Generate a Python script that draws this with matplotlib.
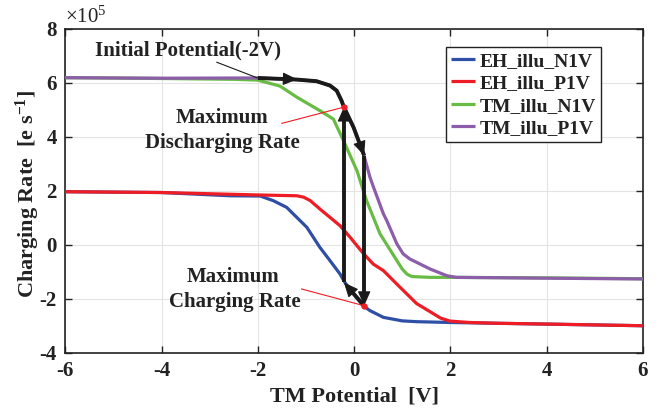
import matplotlib
matplotlib.use("Agg")
import matplotlib.pyplot as plt
from matplotlib.patches import ArrowStyle

plt.rcParams['font.family'] = ['Liberation Serif', 'DejaVu Serif']
plt.rcParams['font.weight'] = 'bold'
plt.rcParams['mathtext.default'] = 'regular'
plt.rcParams['axes.unicode_minus'] = False

# ---- data (values in units of 1e5 e/s) ----
eh_n1v_x = [-6, -4, -2.58, -1.95, -1.68, -1.40, -1.19, -0.98, -0.71, -0.5, -0.29, -0.19, 0.0, 0.19, 0.33, 0.61, 1.0, 1.30, 2.0, 3.0, 4.0, 5.0, 6.0]
eh_n1v_y = [1.96, 1.93, 1.81, 1.80, 1.63, 1.38, 1.01, 0.64, -0.10, -0.59, -1.09, -1.40, -1.85, -2.26, -2.44, -2.69, -2.82, -2.85, -2.88, -2.91, -2.94, -2.97, -3.0]

eh_p1v_x = [-6, -4, -2, -1.19, -1.05, -0.91, -0.71, -0.5, -0.29, -0.08, 0.19, 0.40, 0.61, 0.89, 1.30, 1.58, 1.80, 2.0, 2.4, 3.0, 4.07, 5.0, 6.0]
eh_p1v_y = [1.96, 1.93, 1.84, 1.81, 1.76, 1.63, 1.32, 1.01, 0.70, 0.27, -0.32, -0.72, -0.96, -1.46, -2.18, -2.48, -2.72, -2.83, -2.88, -2.91, -2.94, -2.97, -3.0]

tm_n1v_x = [-6, -4, -2.5, -2, -1.54, -1.19, -0.71, -0.43, -0.22, 0.06, 0.26, 0.54, 0.89, 1.0, 1.10, 1.2, 1.58, 2.0, 4.0, 6.0]
tm_n1v_y = [6.18, 6.15, 6.12, 6.09, 5.87, 5.46, 4.96, 4.65, 3.85, 2.74, 1.63, 0.40, -0.59, -0.90, -1.09, -1.18, -1.21, -1.21, -1.23, -1.26]

tm_p1v_x = [-6, -4, -2, -1.19, -0.78, -0.5, -0.36, -0.26, -0.21, -0.01, 0.21, 0.33, 0.40, 0.61, 0.68, 0.89, 1.02, 1.16, 1.58, 1.93, 2.13, 4.0, 6.0]
tm_p1v_y = [6.18, 6.16, 6.17, 6.11, 6.05, 5.89, 5.70, 5.33, 5.09, 4.34, 3.28, 2.50, 2.15, 1.14, 0.89, 0.03, -0.34, -0.53, -0.90, -1.15, -1.21, -1.24, -1.27]

labels = ['EH_illu_N1V', 'EH_illu_P1V', 'TM_illu_N1V', 'TM_illu_P1V']
colors = ['#2f4fa6', '#ee1c25', '#68bb45', '#8c5da8']

# cycle annotation path
path_x = [-2.0, -1.19, -0.78, -0.5, -0.36, -0.26, -0.21, -0.01, 0.21]
path_y = [6.17, 6.11, 6.05, 5.89, 5.70, 5.33, 5.09, 4.34, 3.30]
disch_pt = (-0.21, 5.09)
charge_pt = (0.21, -2.26)
bottom_left = (-0.21, -1.40)
top_right = (0.21, 3.30)

xticks = [-6, -4, -2, 0, 2, 4, 6]
yticks = [-4, -2, 0, 2, 4, 6, 8]

fig = plt.figure(figsize=(6.63, 4.15), dpi=100)
ax = fig.add_axes([0.0985, 0.150, 0.871, 0.7813])

series = [(eh_n1v_x, eh_n1v_y), (eh_p1v_x, eh_p1v_y), (tm_n1v_x, tm_n1v_y), (tm_p1v_x, tm_p1v_y)]
for (xs, ys), c, lab in zip(series, colors, labels):
    ax.plot(xs, ys, color=c, lw=2.3, label=lab, solid_capstyle='butt', solid_joinstyle='round', zorder=3)

blk = '#1a1a1a'
LW = 2.8
ax.plot(path_x, path_y, color=blk, lw=LW, zorder=4, solid_joinstyle='round', solid_capstyle='butt')
head = ArrowStyle('-|>', head_length=0.9, head_width=0.4)


def head_at(p_from, p_to):
    ax.annotate('', xy=p_to, xytext=p_from,
                arrowprops=dict(arrowstyle=head, color=blk, lw=0.8, shrinkA=0, shrinkB=0,
                                mutation_scale=10), zorder=5)


def seg_arrow(p0, p1):
    f = 0.85 if abs(p1[1] - p0[1]) < 2 else 0.97
    ax.plot([p0[0], p0[0] + f * (p1[0] - p0[0])], [p0[1], p0[1] + f * (p1[1] - p0[1])],
            color=blk, lw=LW, zorder=4, solid_capstyle='butt')
    q = (p1[0] - 0.12 * (p1[0] - p0[0]), p1[1] - 0.12 * (p1[1] - p0[1]))
    head_at(q, p1)


head_at((-1.5, 6.14), (-1.18, 6.12))
head_at((0.12, 3.75), top_right)
seg_arrow(top_right, charge_pt)
seg_arrow(charge_pt, bottom_left)
seg_arrow(bottom_left, disch_pt)

# red markers and pointer lines
ax.plot([disch_pt[0], charge_pt[0]], [disch_pt[1], charge_pt[1]], 'o', color='#ee1c25', ms=3.5, zorder=6, ls='none')
ax.plot([-1.50, disch_pt[0]], [4.49, disch_pt[1]], color='#ee1c25', lw=0.8, zorder=6)
ax.plot([-1.09, charge_pt[0]], [-1.64, charge_pt[1]], color='#ee1c25', lw=0.8, zorder=6)
ax.plot([-2.85, -2.02], [6.75, 6.18], color=blk, lw=0.8, zorder=6)

fs_ann = 15
tc = '#222222'
ax.text(-3.45, 7.19, 'Initial Potential(-2V)', fontsize=fs_ann, ha='center', va='center', color=tc)
ax.text(-2.74, 4.69, 'Maximum', fontsize=fs_ann, ha='center', va='center', color=tc)
ax.text(-2.74, 3.76, 'Discharging Rate', fontsize=fs_ann, ha='center', va='center', color=tc)
ax.text(-2.52, -1.21, 'Maximum', fontsize=fs_ann, ha='center', va='center', color=tc)
ax.text(-2.48, -2.13, 'Charging Rate', fontsize=fs_ann, ha='center', va='center', color=tc)

ax.set_xlim(-6, 6)
ax.set_ylim(-4, 8)
ax.set_xticks(xticks)
ax.set_yticks(yticks)
ax.tick_params(direction='in', length=5, width=1, top=True, right=True, labelsize=15, pad=6, colors=tc)
ax.grid(True, color='#e4e4e4', lw=0.8)
ax.set_axisbelow(True)
for s in ax.spines.values():
    s.set_linewidth(1.2)
    s.set_color(tc)

ax.set_xlabel('TM Potential  [V]', fontsize=16, fontweight='bold', color=tc, labelpad=4)
ax.set_ylabel(r'Charging Rate  [e s$^{-1}$]', fontsize=16, fontweight='bold', color=tc)
ax.yaxis.set_label_coords(-0.040, 0.49)
ax.text(0.0, 1.017, r'$\times$10$^{5}$', transform=ax.transAxes, fontsize=15, fontweight='normal',
        ha='left', va='baseline', color=tc)

leg = ax.legend(loc='upper right', bbox_to_anchor=(0.927, 0.942), borderaxespad=0, fancybox=False,
                edgecolor=tc, framealpha=1, fontsize=14, handlelength=1.25, handletextpad=0.2,
                labelspacing=0.25, borderpad=0.25)
leg.get_frame().set_linewidth(1.0)
for t in leg.get_texts():
    t.set_color(tc)
for l in leg.get_lines():
    l.set_linewidth(2.3)

fig.savefig('out.png', dpi=100)
